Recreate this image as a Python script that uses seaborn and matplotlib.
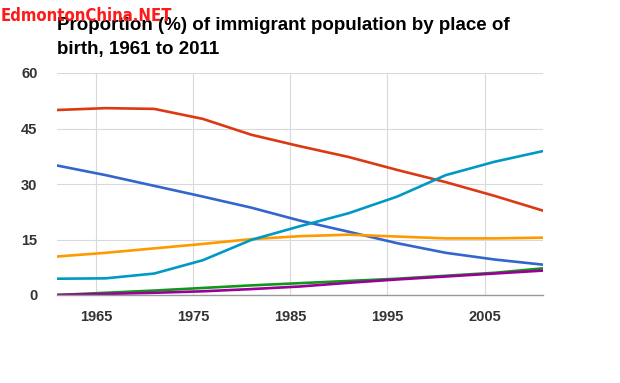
import pandas as pd
import matplotlib
matplotlib.use("Agg")
import matplotlib.pyplot as plt
import seaborn as sns

years = [1961, 1966, 1971, 1976, 1981, 1986, 1991, 1996, 2001, 2006, 2011]

# share of immigrant population (%)
united_states = [35.0, 32.4, 29.5, 26.6, 23.6, 20.1, 17.1, 14.0, 11.4, 9.6, 8.2]
europe = [50.0, 50.5, 50.3, 47.6, 43.3, 40.2, 37.3, 33.8, 30.5, 26.8, 22.8]
americas = [10.4, 11.4, 12.6, 13.8, 15.1, 15.9, 16.3, 15.8, 15.3, 15.3, 15.5]
africa = [0.0, 0.6, 1.2, 1.9, 2.6, 3.2, 3.8, 4.4, 5.2, 6.0, 7.2]
oceania = [0.0, 0.3, 0.6, 1.0, 1.6, 2.3, 3.3, 4.2, 5.0, 5.8, 6.6]
asia = [4.4, 4.5, 5.8, 9.4, 14.9, 18.6, 22.1, 26.6, 32.4, 36.0, 38.9]

series = {
    "United States": united_states,
    "Europe": europe,
    "Caribbean, Central and South America": americas,
    "Africa": africa,
    "Oceania and other": oceania,
    "Asia": asia,
}
colors = ["#3366cc", "#dc3912", "#ff9900", "#109618", "#990099", "#0099c6"]

x_ticks = [1965, 1975, 1985, 1995, 2005]
y_ticks = [0, 15, 30, 45, 60]

rows = []
for name, vals in series.items():
    for yr, v in zip(years, vals):
        rows.append({"year": yr, "share": v, "region": name})
df = pd.DataFrame(rows)

sns.set_style("white")
plt.rcParams["font.family"] = ["Liberation Sans", "DejaVu Sans"]

fig = plt.figure(figsize=(6.2, 3.83), dpi=100)
ax = fig.add_axes([57 / 620, 1 - 295 / 383, 486 / 620, 222 / 383])

sns.lineplot(data=df, x="year", y="share", hue="region",
             palette=colors, linewidth=1.9, legend=False, ax=ax)

ax.set_xlim(1961, 2011)
ax.set_ylim(0, 60)
ax.set_xticks(x_ticks)
ax.set_yticks(y_ticks)
ax.grid(True, color="#d9d9d9", linewidth=0.8)
ax.set_axisbelow(True)
for s in ["top", "right", "left"]:
    ax.spines[s].set_visible(False)
ax.spines["bottom"].set_color("#999999")
ax.spines["bottom"].set_linewidth(1.0)
ax.tick_params(axis="x", length=0, pad=11)
ax.tick_params(axis="y", length=0, pad=14)
ax.tick_params(labelsize=10.5, labelcolor="#333333")
for lab in ax.get_xticklabels() + ax.get_yticklabels():
    lab.set_fontweight("bold")
ax.set_xlabel("")
ax.set_ylabel("")

fig.text(57 / 620, 1 - 54 / 383,
         "Proportion (%) of immigrant population by place of\nbirth, 1961 to 2011",
         fontsize=13.5, fontweight="bold", color="#000000",
         ha="left", va="baseline", linespacing=1.55)
fig.text(1 / 620, 1 - 21 / 383, "EdmontonChina.NET",
         family=["DejaVu Sans"], fontstretch="condensed",
         fontsize=12, fontweight="bold", color="#ff1a1a",
         ha="left", va="baseline")

fig.savefig("out.png", dpi=100)
